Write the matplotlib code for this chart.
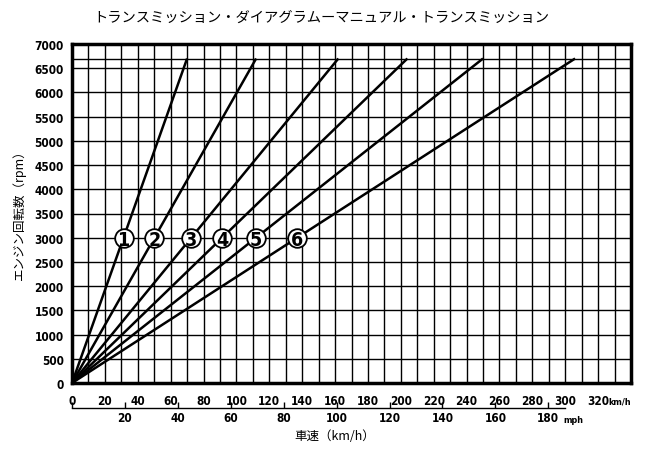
import numpy as np
import matplotlib.pyplot as plt

plt.rcParams['font.family'] = ['Noto Sans CJK JP', 'DejaVu Sans']

# ギア別 6700rpm 時の車速 (km/h)
gears = ['1', '2', '3', '4', '5', '6']
top_speed = [70, 112, 162, 204, 250, 306]
redline = 6700
label_rpm = 3000

kmh_ticks = list(range(0, 340, 20))
mph_ticks = list(range(0, 200, 20))
rpm_ticks = list(range(0, 7500, 500))

title = 'トランスミッション・ダイアグラムーマニュアル・トランスミッション'
xlabel = '車速（km/h）'
ylabel = 'エンジン回転数（rpm）'

num_font = ['DejaVu Sans']
num_kw = dict(fontweight='bold', family=num_font, fontstretch='condensed')

fig = plt.figure(figsize=(6.5, 4.56), dpi=100)
ax = fig.add_axes([72 / 650, 1 - 384 / 456, 559 / 650, 339 / 456])

# grid
for v in range(10, 340, 10):
    ax.axvline(v, color='black', lw=1.0, zorder=1)
for r in rpm_ticks[1:-1] + [redline]:
    ax.axhline(r, color='black', lw=1.0, zorder=1)

# gear lines
for g, v in zip(gears, top_speed):
    ax.plot([0, v], [0, redline], color='black', lw=1.8, zorder=2,
            solid_capstyle='butt')
    xs = v * label_rpm / redline
    ax.scatter([xs], [label_rpm], s=180, facecolor='white', edgecolor='black',
               linewidth=1.3, zorder=3)
    ax.text(xs, label_rpm - 30, g, ha='center', va='center', fontsize=14,
            zorder=4, **num_kw)

ax.set_xlim(0, 340)
ax.set_ylim(0, 7000)
for s in ax.spines.values():
    s.set_linewidth(2.5)

ax.set_xticks(kmh_ticks)
ax.set_xticklabels([str(k) for k in kmh_ticks], fontsize=8.5, **num_kw)
ax.set_yticks(rpm_ticks)
ax.set_yticklabels([str(r) for r in rpm_ticks], fontsize=8.5, **num_kw)
ax.tick_params(axis='x', length=0, pad=8)
ax.tick_params(axis='y', length=0, pad=6)
ax.text(1.0, -0.052, 'km/h', transform=ax.transAxes, ha='right', va='center',
        fontsize=6.5, **num_kw)

# mph axis
sec = ax.secondary_xaxis(-0.074, functions=(lambda k: k / 1.609344,
                                            lambda m: m * 1.609344))
sec.set_xticks(mph_ticks)
sec.set_xticklabels([''] + [str(m) for m in mph_ticks[1:]], fontsize=8.5, **num_kw)
sec.spines['bottom'].set_bounds(0, 300 / 1.609344)
sec.spines['bottom'].set_linewidth(1.0)
sec.tick_params(axis='x', direction='in', length=4, width=1.0, pad=2)
ax.text(180 * 1.609344 + 9, -0.108, 'mph', transform=ax.get_xaxis_transform(),
        ha='left', va='center', fontsize=6.5, **num_kw)

fig.text(321 / 650, 1 - 18 / 456, title, ha='center', va='center', fontsize=10.3)
fig.text(335 / 650, 1 - 437 / 456, xlabel, ha='center', va='center', fontsize=9)
fig.text(19 / 650, 1 - 212 / 456, ylabel, ha='center', va='center', fontsize=9,
         rotation=90)

fig.savefig('out.png', dpi=100)
